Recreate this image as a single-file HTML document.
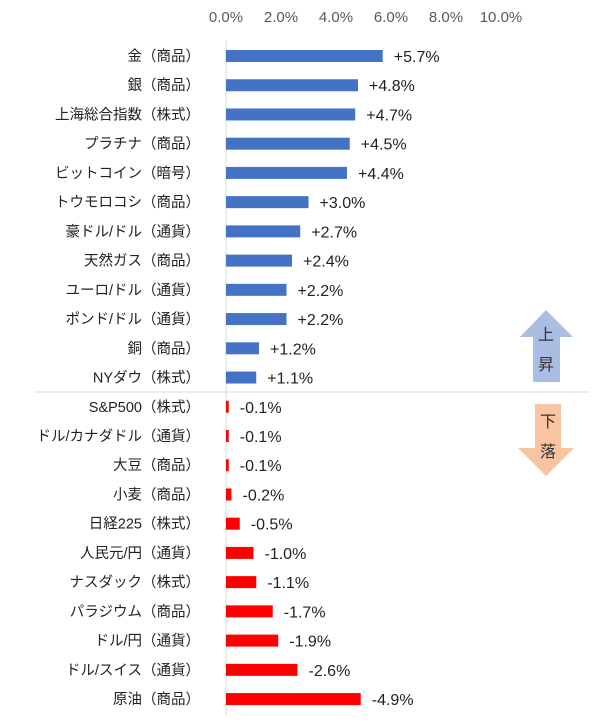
<!DOCTYPE html>
<html><head><meta charset="utf-8"><style>
body{margin:0;background:#fff;}
svg{display:block;font-family:"Liberation Sans","Noto Sans CJK JP",sans-serif;}
</style></head><body>
<svg id="c" width="600" height="728">
<line x1="35" y1="392" x2="590" y2="392" stroke="#d9d9d9" stroke-width="1"/>
<g>
<polygon points="546,310 573,337 560,337 560,382 533,382 533,337 520,337" fill="#aabde2"/>
<text x="546" y="340" font-size="16" text-anchor="middle" fill="#333">上</text>
<text x="546" y="370" font-size="16" text-anchor="middle" fill="#333">昇</text>
</g>
<g>
<polygon points="535,404 561,404 561,448 574,448 546,476 518,448 535,448" fill="#f8c4a2"/>
<text x="548" y="427" font-size="16" text-anchor="middle" fill="#333">下</text>
<text x="548" y="457" font-size="16" text-anchor="middle" fill="#333">落</text>
</g>
</svg>
<script>
const categories=["金（商品）","銀（商品）","上海総合指数（株式）","プラチナ（商品）","ビットコイン（暗号）","トウモロコシ（商品）","豪ドル/ドル（通貨）","天然ガス（商品）","ユーロ/ドル（通貨）","ポンド/ドル（通貨）","銅（商品）","NYダウ（株式）","S&P500（株式）","ドル/カナダドル（通貨）","大豆（商品）","小麦（商品）","日経225（株式）","人民元/円（通貨）","ナスダック（株式）","パラジウム（商品）","ドル/円（通貨）","ドル/スイス（通貨）","原油（商品）"];
const values=[5.7,4.8,4.7,4.5,4.4,3.0,2.7,2.4,2.2,2.2,1.2,1.1,-0.1,-0.1,-0.1,-0.2,-0.5,-1.0,-1.1,-1.7,-1.9,-2.6,-4.9];
const ticks=[0,2,4,6,8,10];
const NS="http://www.w3.org/2000/svg";
const svg=document.getElementById('c');
const x0=226,pxPer=27.5,y0=56,step=29.23,bh=12;
const xs=v=>x0+v*pxPer;
const ys=i=>y0+i*step;
function mk(t,a){const e=document.createElementNS(NS,t);for(const k in a)e.setAttribute(k,a[k]);svg.appendChild(e);return e;}
ticks.forEach(t=>{
 const e=mk('text',{x:xs(t),y:22,'font-size':15,'text-anchor':'middle',fill:'#595959'});
 e.textContent=t.toFixed(1)+'%';
 
 
});
const ax=mk('line',{x1:x0,y1:40,x2:x0,y2:716,stroke:'#d9d9d9'});


categories.forEach((c,i)=>{
 const v=values[i],y=ys(i);
 const l=mk('text',{x:200,y:y+5,'font-size':14.5,'text-anchor':'end',fill:'#222'});
 l.textContent=c;
 
 
 const w=Math.abs(v)*pxPer;
 const r=mk('rect',{x:x0,y:y-bh/2,width:Math.max(w,1.5),height:bh,fill:v>=0?'#4472c4':'#ff0000'});
 
 
 const t=mk('text',{x:x0+Math.max(w,1.5)+11,y:y+6,'font-size':16,fill:'#222'});
 t.textContent=(v>=0?'+':'')+v.toFixed(1)+'%';
 
 
});
</script>
</body></html>
